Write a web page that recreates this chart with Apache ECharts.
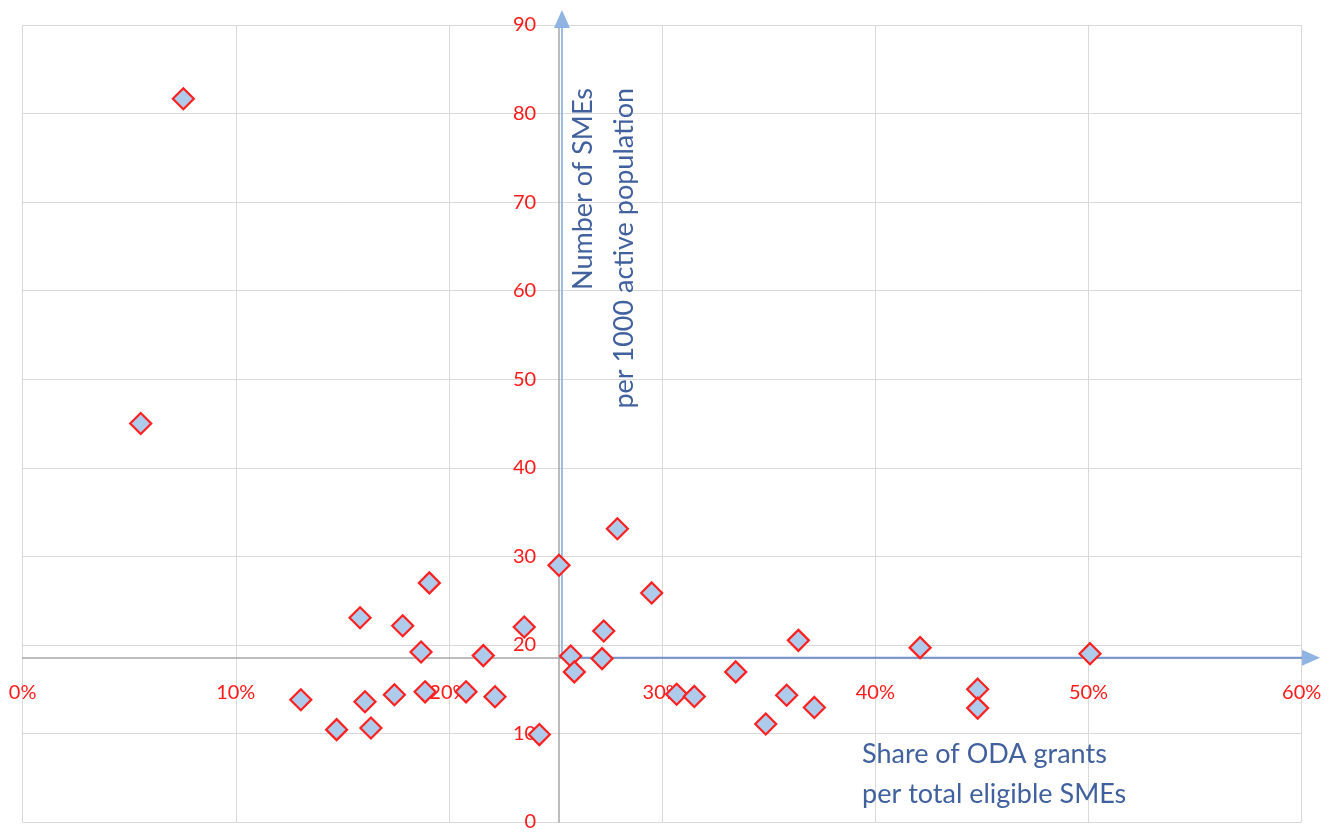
<!DOCTYPE html>
<html>
<head>
<meta charset="utf-8">
<script src="https://cdn.jsdelivr.net/npm/echarts@6/dist/echarts.min.js"></script>
<style>
html,body{margin:0;padding:0;background:#fff;}
#chart{width:1335px;height:832px;}
</style>
</head>
<body>
<div id="chart"></div>
<script>
// Share of ODA grants per total eligible SMEs (%)
const xShare = [7.54, 5.54, 25.16, 27.90, 29.51, 19.08, 15.83, 17.83, 23.53, 27.26,
  36.39, 42.10, 50.07, 18.69, 21.61, 25.71, 27.18, 25.88, 33.45, 13.05,
  16.06, 17.44, 18.88, 20.80, 22.16, 30.68, 31.51, 35.84, 37.14, 44.80,
  44.80, 14.73, 16.34, 24.24, 34.86];
// Number of SMEs per 1000 active population
const ySmes = [81.67, 45.0, 28.99, 33.11, 25.87, 27.0, 23.06, 22.16, 22.02, 21.57,
  20.51, 19.69, 19.01, 19.20, 18.79, 18.75, 18.45, 16.95, 16.95, 13.80,
  13.58, 14.37, 14.70, 14.70, 14.14, 14.43, 14.18, 14.32, 12.94, 15.0,
  12.86, 10.43, 10.61, 9.87, 11.06];
const xTicks = [0, 10, 20, 30, 40, 50, 60];
const yTicks = [0, 10, 20, 30, 40, 50, 60, 70, 80, 90];
// axis crossing values (quadrant axes)
const crossX = 25.17;
const crossY = 18.5;
// blue arrow axes (start / tip values)
const arrowV = [[25.30, 18.56], [25.30, 91.7]];
const arrowH = [[25.17, 18.56], [60.86, 18.56]];
const xTitle = 'Share of ODA grants\nper total eligible SMEs';
const yTitle = 'Number of SMEs\nper 1000 active population';

const W = 1335, H = 832;
const grid = {left: 22.6, right: 33.3, top: 25, bottom: 7};
const gw = W - grid.left - grid.right, gh = H - grid.top - grid.bottom;
const xMin = xTicks[0], xMax = xTicks[xTicks.length - 1];
const yMin = yTicks[0], yMax = yTicks[yTicks.length - 1];

const pts = xShare.map((x, i) => [x, ySmes[i]]);
const chart = echarts.init(document.getElementById('chart'), null, {renderer: 'canvas'});
const labelFont = 'Lato';
const titleFont = '27px Lato';
chart.setOption({
  animation: false,
  grid: {left: grid.left, right: grid.right, top: grid.top, bottom: grid.bottom, containLabel: false},
  xAxis: {
    type: 'value', min: xMin, max: xMax, interval: 10, position: 'bottom',
    offset: -((crossY - yMin) / (yMax - yMin)) * gh,
    axisLine: {show: true, lineStyle: {color: '#a6a6a6', width: 1.5}},
    axisTick: {show: false},
    axisLabel: {color: '#ff1a1a', fontSize: 20, fontFamily: labelFont, margin: 25, formatter: '{value}%'},
    splitLine: {show: true, lineStyle: {color: '#d9d9d9', width: 1}}
  },
  yAxis: {
    type: 'value', min: yMin, max: yMax, interval: 10, position: 'left',
    offset: -((crossX - xMin) / (xMax - xMin)) * gw,
    axisLine: {show: true, lineStyle: {color: '#a6a6a6', width: 1.5}},
    axisTick: {show: false},
    axisLabel: {color: '#ff1a1a', fontSize: 20, fontFamily: labelFont, margin: 23},
    splitLine: {show: true, lineStyle: {color: '#d9d9d9', width: 1}}
  },
  series: [{
    type: 'scatter',
    clip: false,
    symbol: 'diamond',
    symbolSize: 21,
    z: 5,
    itemStyle: {color: '#aecbeb', borderColor: '#ff2020', borderWidth: 2.2, opacity: 1},
    data: pts
  }]
});

const v0 = chart.convertToPixel({gridIndex: 0}, arrowV[0]);
const v1 = chart.convertToPixel({gridIndex: 0}, arrowV[1]);
const h0 = chart.convertToPixel({gridIndex: 0}, arrowH[0]);
const h1 = chart.convertToPixel({gridIndex: 0}, arrowH[1]);
const aw = 8, al = 18;
chart.setOption({
  graphic: [
    {type: 'line', silent: true, z: 3,
     shape: {x1: v0[0], y1: v0[1], x2: v1[0], y2: v1[1] + al - 2},
     style: {stroke: '#9dbbe0', lineWidth: 2}},
    {type: 'polygon', silent: true, z: 3,
     shape: {points: [[v1[0], v1[1]], [v1[0] - aw, v1[1] + al], [v1[0] + aw, v1[1] + al]]},
     style: {fill: '#8fb4e3'}},
    {type: 'line', silent: true, z: 3,
     shape: {x1: h0[0], y1: h0[1], x2: h1[0] - al + 2, y2: h1[1]},
     style: {stroke: '#7494cb', lineWidth: 2}},
    {type: 'polygon', silent: true, z: 3,
     shape: {points: [[h1[0], h1[1]], [h1[0] - al, h1[1] - aw], [h1[0] - al, h1[1] + aw]]},
     style: {fill: '#8fb4e3'}},
    {type: 'text', left: 862, top: 734, silent: true, z: 4,
     style: {text: xTitle, fill: '#41609e', font: titleFont, lineHeight: 40}},
    {type: 'text', x: 563, y: 88, rotation: Math.PI / 2, silent: true, z: 4,
     style: {text: yTitle, fill: '#41609e', font: titleFont, lineHeight: 41, align: 'right', verticalAlign: 'top'}}
  ]
});
</script>
</body>
</html>
